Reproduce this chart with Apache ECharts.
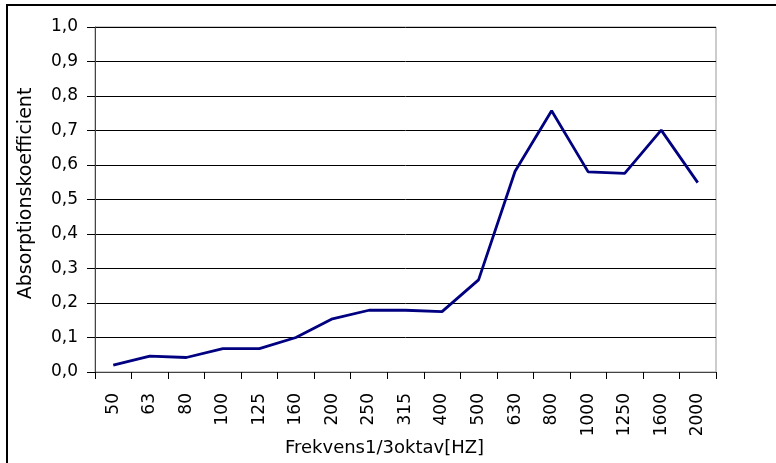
<!DOCTYPE html>
<html><head><meta charset="utf-8">
<script src="https://cdn.jsdelivr.net/npm/echarts@6/dist/echarts.min.js"></script>
<style>html,body{margin:0;padding:0;background:#fff}#c{width:776px;height:463px}</style>
</head><body><div id="c"></div>
<script>
const categories = ['50','63','80','100','125','160','200','250','315','400','500','630','800','1000','1250','1600','2000'];
const values = [0.02,0.046,0.042,0.068,0.068,0.1,0.154,0.179,0.179,0.175,0.267,0.582,0.757,0.58,0.576,0.701,0.549];
const yTicks = [0,0.1,0.2,0.3,0.4,0.5,0.6,0.7,0.8,0.9,1.0];
const font = 'DejaVu Sans';
const chart = echarts.init(document.getElementById('c'));
chart.setOption({
  animation:false,
  backgroundColor:'#fff',
  graphic:[{type:'rect',shape:{x:7,y:5,width:900,height:600},style:{fill:'none',stroke:'#000',lineWidth:2},z:100}],
  grid:{left:95,top:27,right:60,bottom:91,show:true,borderColor:'#999',borderWidth:1,backgroundColor:'#fff',outerBoundsMode:'none',containLabel:false},
  xAxis:{type:'category',data:categories,boundaryGap:true,
    name:'Frekvens1/3oktav[HZ]',nameLocation:'middle',nameGap:67,nameMoveOverlap:false,
    nameTextStyle:{fontFamily:font,fontSize:18,color:'#000',padding:[0,42,0,0]},
    axisLine:{lineStyle:{color:'#444',width:1}},
    axisTick:{show:true,alignWithLabel:false,length:7,lineStyle:{color:'#000'}},
    axisLabel:{rotate:90,margin:21,fontFamily:font,fontSize:17,color:'#000',interval:0}},
  yAxis:{type:'value',min:0,max:1,interval:0.1,
    name:'Absorptionskoefficient',nameLocation:'middle',nameGap:59,nameMoveOverlap:false,
    nameTextStyle:{fontFamily:font,fontSize:19,color:'#000',padding:[0,0,0,12]},
    axisLine:{show:true,lineStyle:{color:'#444',width:1}},
    axisTick:{show:true,length:8,lineStyle:{color:'#000'}},
    axisLabel:{fontFamily:font,fontSize:17,color:'#000',margin:17,
      formatter:v=>v.toFixed(1).replace('.',',')},
    splitLine:{show:true,lineStyle:{color:'#000',width:1}}},
  series:[{type:'line',data:values,showSymbol:false,symbol:'none',
    lineStyle:{color:'#000080',width:2.8},itemStyle:{color:'#000080'}}]
});
</script></body></html>
